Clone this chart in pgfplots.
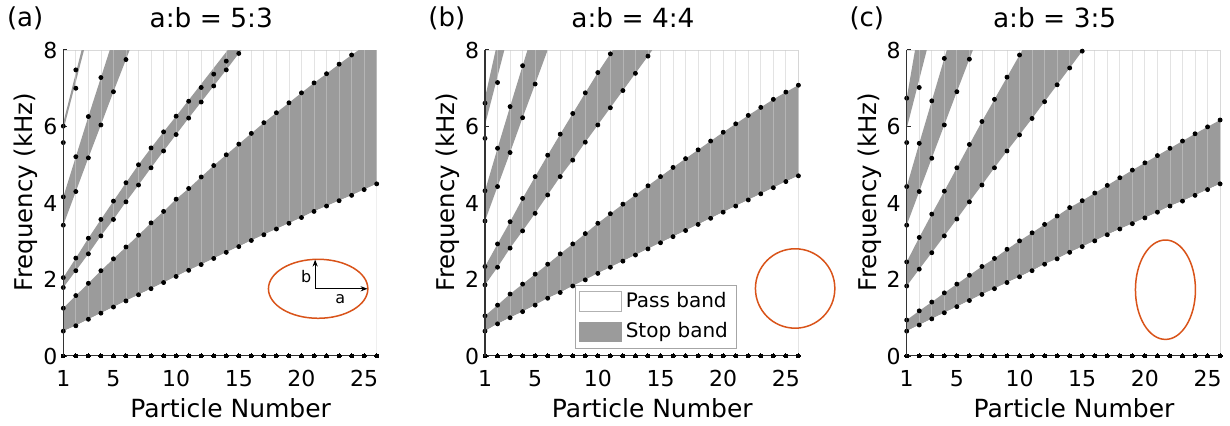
\documentclass[border=0pt]{standalone}
\usepackage{fontspec}
\setmainfont{DejaVu Sans}
\usepackage{pgfplots}
\pgfplotsset{compat=1.18}
\usepgfplotslibrary{fillbetween}
\usepackage{pgfplotstable}
\usetikzlibrary{arrows.meta}
\definecolor{stopgray}{RGB}{155,155,155}
\definecolor{ellcol}{RGB}{217,83,25}

% comb / zero rows
\pgfplotstableread{
x z t
1 0 8
2 0 8
3 0 8
4 0 8
5 0 8
6 0 8
7 0 8
8 0 8
9 0 8
10 0 8
11 0 8
12 0 8
13 0 8
14 0 8
15 0 8
16 0 8
17 0 8
18 0 8
19 0 8
20 0 8
21 0 8
22 0 8
23 0 8
24 0 8
25 0 8
26 0 8
}\basetab

% ---------------- panel (a) ----------------
\pgfplotstableread{
x lo hi dlo dhi
1 0.65 1.25 0.65 1.25
2 0.79 1.58 0.79 1.58
3 0.96 1.90 0.96 1.90
4 1.12 2.23 1.12 2.23
5 1.28 2.54 1.28 2.54
6 1.44 2.85 1.44 2.85
7 1.60 3.16 1.60 3.16
8 1.76 3.48 1.76 3.48
9 1.92 3.78 1.92 3.78
10 2.08 4.10 2.08 4.10
11 2.24 4.38 2.24 4.38
12 2.39 4.68 2.39 4.68
13 2.55 4.98 2.55 4.98
14 2.71 5.26 2.71 5.26
15 2.86 5.54 2.86 5.54
16 3.02 5.82 3.02 5.82
17 3.17 6.10 3.17 6.10
18 3.32 6.36 3.32 6.36
19 3.47 6.62 3.47 6.62
20 3.62 6.88 3.62 6.88
21 3.78 7.14 3.78 7.14
22 3.92 7.38 3.92 7.38
23 4.06 7.63 4.06 7.63
24 4.20 7.87 4.20 7.87
25 4.35 8.10 4.35 nan
26 4.50 8.33 4.50 nan
}\taA
\pgfplotstableread{
x lo hi dlo dhi
1 1.79 2.05 1.79 2.05
2 2.23 2.56 2.23 2.56
3 2.67 3.08 2.67 3.08
4 3.14 3.57 3.14 3.57
5 3.57 4.05 3.57 4.05
6 4.03 4.53 4.03 4.53
7 4.47 5.00 4.47 5.00
8 4.92 5.44 4.92 5.44
9 5.36 5.86 5.36 5.86
10 5.79 6.27 5.79 6.27
11 6.22 6.69 6.22 6.66
12 6.64 7.11 6.64 7.02
13 7.06 7.53 7.06 7.37
14 7.48 7.95 7.48 7.71
15 7.91 8.37 7.91 nan
16 8.33 8.79 nan nan
}\taB
\pgfplotstableread{
x lo hi dlo dhi
1 3.42 4.16 3.42 4.16
2 4.30 5.21 4.30 5.21
3 5.18 6.26 5.18 6.26
4 6.04 7.28 6.04 7.28
5 6.91 8.30 6.91 nan
6 7.75 9.32 7.75 nan
7 8.60 10.34 nan nan
}\taC
\pgfplotstableread{
x lo hi dlo dhi
1 5.90 6.10 5.58 6.01
2 7.17 7.40 7.00 7.48
3 8.44 8.70 nan nan
}\taD

% ---------------- panel (b) ----------------
\pgfplotstableread{
x lo hi dlo dhi
1 0.65 1.05 0.65 1.05
2 0.84 1.33 0.84 1.33
3 1.00 1.62 1.00 1.62
4 1.16 1.88 1.16 1.88
5 1.33 2.14 1.33 2.14
6 1.51 2.40 1.51 2.40
7 1.66 2.67 1.66 2.67
8 1.83 2.93 1.83 2.93
9 1.99 3.20 1.99 3.20
10 2.16 3.47 2.16 3.47
11 2.32 3.72 2.32 3.72
12 2.48 3.97 2.48 3.97
13 2.64 4.21 2.64 4.21
14 2.80 4.45 2.80 4.45
15 2.96 4.69 2.96 4.69
16 3.12 4.93 3.12 4.93
17 3.28 5.16 3.28 5.16
18 3.44 5.39 3.44 5.39
19 3.60 5.62 3.60 5.62
20 3.76 5.85 3.76 5.85
21 3.92 6.07 3.92 6.07
22 4.08 6.29 4.08 6.29
23 4.24 6.50 4.24 6.50
24 4.40 6.71 4.40 6.71
25 4.56 6.90 4.56 6.90
26 4.71 7.08 4.71 7.08
}\tbA
\pgfplotstableread{
x lo hi dlo dhi
1 1.86 2.34 1.86 2.34
2 2.32 2.93 2.32 2.93
3 2.82 3.51 2.82 3.51
4 3.27 4.12 3.27 4.12
5 3.73 4.69 3.73 4.69
6 4.21 5.25 4.21 5.25
7 4.69 5.80 4.69 5.80
8 5.12 6.34 5.12 6.34
9 5.59 6.88 5.59 6.88
10 6.04 7.41 6.04 7.41
11 6.49 7.90 6.49 7.90
12 6.94 8.40 6.94 nan
13 7.39 8.90 7.39 nan
14 7.84 9.40 7.84 nan
15 8.30 9.90 nan nan
}\tbB
\pgfplotstableread{
x lo hi dlo dhi
1 3.53 4.32 3.53 4.32
2 4.43 5.43 4.43 5.43
3 5.32 6.52 5.32 6.52
4 6.23 7.59 6.23 7.59
5 7.11 8.65 7.11 nan
6 8.00 9.70 nan nan
7 8.90 10.80 nan nan
}\tbC
\pgfplotstableread{
x lo hi dlo dhi
1 6.04 6.75 5.69 6.61
2 7.31 8.22 7.15 nan
3 8.58 9.69 nan nan
}\tbD

% ---------------- panel (c) ----------------
\pgfplotstableread{
x lo hi dlo dhi
1 0.65 0.94 0.65 0.94
2 0.81 1.18 0.81 1.18
3 0.97 1.41 0.97 1.41
4 1.13 1.65 1.13 1.65
5 1.29 1.88 1.29 1.88
6 1.45 2.11 1.45 2.11
7 1.61 2.34 1.61 2.34
8 1.76 2.55 1.76 2.55
9 1.92 2.79 1.92 2.79
10 2.07 3.01 2.07 3.01
11 2.23 3.22 2.23 3.22
12 2.40 3.44 2.40 3.44
13 2.54 3.66 2.54 3.66
14 2.71 3.88 2.71 3.88
15 2.86 4.06 2.86 4.06
16 3.01 4.26 3.01 4.26
17 3.17 4.46 3.17 4.46
18 3.32 4.66 3.32 4.66
19 3.46 4.86 3.46 4.86
20 3.61 5.05 3.61 5.05
21 3.76 5.24 3.76 5.24
22 3.92 5.43 3.92 5.43
23 4.05 5.62 4.05 5.62
24 4.20 5.81 4.20 5.81
25 4.35 5.99 4.35 5.99
26 4.50 6.17 4.50 6.17
}\tcA
\pgfplotstableread{
x lo hi dlo dhi
1 1.83 2.46 1.83 2.46
2 2.27 3.10 2.27 3.10
3 2.70 3.71 2.70 3.71
4 3.14 4.31 3.14 4.31
5 3.58 4.92 3.58 4.92
6 4.03 5.53 4.03 5.53
7 4.47 6.13 4.47 6.13
8 4.92 6.71 4.92 6.71
9 5.36 7.29 5.36 7.29
10 5.78 7.87 5.78 7.87
11 6.21 8.45 6.21 nan
12 6.65 9.03 6.65 nan
13 7.09 9.61 7.09 nan
14 7.53 10.19 7.53 nan
15 7.97 10.77 7.97 nan
16 8.41 11.35 nan nan
}\tcB
\pgfplotstableread{
x lo hi dlo dhi
1 3.42 4.43 3.42 4.43
2 4.30 5.56 4.30 5.56
3 5.17 6.67 5.17 6.67
4 6.04 7.78 6.04 7.78
5 6.91 8.89 6.91 nan
6 7.76 10.00 7.76 nan
7 8.61 11.10 nan nan
}\tcC
\pgfplotstableread{
x lo hi dlo dhi
1 5.95 6.74 5.58 6.74
2 7.23 8.64 7.02 nan
3 8.51 10.50 nan nan
}\tcD

\newcommand{\band}[2]{%
  \addplot[draw=none, forget plot, name path=#2lo] table[x=x,y=lo]{#1};
  \addplot[draw=none, forget plot, name path=#2hi] table[x=x,y=hi]{#1};
  \addplot[fill=stopgray, draw=none, forget plot] fill between[of=#2lo and #2hi];
}
\newcommand{\bdots}[1]{%
  \addplot[dotst] table[x=x,y=dlo]{#1};
  \addplot[dotst] table[x=x,y=dhi]{#1};
}
\newcommand{\passlines}[1]{%
  \addplot[ycomb, draw=gray!40, opacity=0.55, line width=0.4pt, forget plot, mark=none] table[x=x,y=t]{\basetab};
  \addplot[fill=white, draw=none, forget plot] table[x=x,y=lo]{#1} \closedcycle;
}
\newcommand{\zeroline}{%
  \addplot[black!80, line width=1pt, mark=*, mark size=1pt, mark options={black, fill=black, line width=0pt}, forget plot] table[x=x,y=z]{\basetab};
}

\pgfplotsset{
  panel/.style={
    scale only axis, width=156.7pt, height=153pt,
    xmin=1, xmax=26, ymin=0, ymax=8,
    xtick={1,5,10,15,20,25}, ytick={0,2,4,6,8},
    tick pos=left, major tick length=2pt,
    axis line style={draw=gray!30, line width=0.5pt},
    tick style={black!85, line width=0.6pt},
    tick label style={font=\fontsize{11}{13}\selectfont},
    /pgf/number format/assume math mode=true,
    xticklabel style={anchor=base, yshift=-15.5pt},
    yticklabel style={anchor=east, inner sep=0pt, xshift=-2.8pt},
    xlabel={Particle Number}, ylabel={Frequency (kHz)},
    xlabel style={at={(axis description cs:0.534,-0.2026)}, anchor=base, font=\fontsize{12.5}{15}\selectfont},
    ylabel style={at={(axis description cs:-0.119,0.536)}, anchor=center, font=\fontsize{12.2}{15}\selectfont},
    title style={at={(axis description cs:0.472,1.0327)}, anchor=base, yshift=0pt, font=\fontsize{13.2}{15}\selectfont},
  },
  dotst/.style={only marks, mark=*, mark size=1pt, black, forget plot, unbounded coords=discard, restrict y to domain=-1:8.05},
}

\begin{document}
\begin{tikzpicture}
% ---------- (a) ----------
\begin{axis}[panel, name=A, at={(31.65pt,35pt)}, anchor=south west,
  title={a:b = 5:3}]
  \band{\taA}{aA}\band{\taB}{aB}\band{\taC}{aC}\band{\taD}{aD}
  \passlines{\taA}
  \bdots{\taA}\bdots{\taB}\bdots{\taC}\bdots{\taD}
  \zeroline
  \coordinate (eA) at (axis cs:21.33,1.757);
\end{axis}
\draw[black!80, line width=0.7pt] (A.south west) -- (A.north west);
\node[anchor=west, inner sep=0pt, font=\fontsize{13}{15}\selectfont] at ([xshift=-28.3pt, yshift=15.8pt]A.north west) {(a)};
\draw[ellcol, line width=0.75pt] (eA) ellipse [x radius=24.85pt, y radius=14.75pt];
\draw[black, line width=0.5pt, -{Stealth[length=3.5pt, width=2.6pt]}] ([xshift=-1.5pt]eA) -- ++(26.2pt,0);
\draw[black, line width=0.5pt, -{Stealth[length=3.5pt, width=2.6pt]}] ([xshift=-1.5pt]eA) -- ++(0,14.6pt);
\node[inner sep=0pt, font=\fontsize{8}{9}\selectfont] at ([xshift=-6pt, yshift=6pt]eA) {b};
\node[inner sep=0pt, font=\fontsize{8}{9}\selectfont] at ([xshift=11pt, yshift=-5.1pt]eA) {a};

% ---------- (b) ----------
\begin{axis}[panel, name=B, at={(242.5pt,35pt)}, anchor=south west,
  title={a:b = 4:4},
  legend style={at={(axis description cs:0.287,0.025)}, anchor=south west, draw=gray!70, fill=white,
    font=\fontsize{10}{12}\selectfont, inner xsep=2pt, inner ysep=1.5pt, row sep=2pt},
  legend cell align=left,
  legend image code/.code={\draw[#1] (0pt,-4.9pt) rectangle (20.8pt,4.9pt);}]
  \addlegendimage{fill=white, draw=gray!60}
  \addlegendentry{Pass band}
  \addlegendimage{fill=stopgray, draw=stopgray}
  \addlegendentry{Stop band}
  \band{\tbA}{bA}\band{\tbB}{bB}\band{\tbC}{bC}\band{\tbD}{bD}
  \passlines{\tbA}
  \bdots{\tbA}\bdots{\tbB}\bdots{\tbC}\bdots{\tbD}
  \zeroline
  \coordinate (eB) at (axis cs:25.74,1.765);
\end{axis}
\draw[black!80, line width=0.7pt] (B.south west) -- (B.north west);
\node[anchor=west, inner sep=0pt, font=\fontsize{13}{15}\selectfont] at ([xshift=-28.5pt, yshift=15.8pt]B.north west) {(b)};
\draw[ellcol, line width=0.75pt] (eB) circle [radius=19.85pt];

% ---------- (c) ----------
\begin{axis}[panel, name=C, at={(453.35pt,35pt)}, anchor=south west,
  title={a:b = 3:5}]
  \band{\tcA}{cA}\band{\tcB}{cB}\band{\tcC}{cC}\band{\tcD}{cD}
  \passlines{\tcA}
  \bdots{\tcA}\bdots{\tcB}\bdots{\tcC}\bdots{\tcD}
  \zeroline
  \coordinate (eC) at (axis cs:21.64,1.733);
\end{axis}
\draw[black!80, line width=0.7pt] (C.south west) -- (C.north west);
\node[anchor=west, inner sep=0pt, font=\fontsize{13}{15}\selectfont] at ([xshift=-28.8pt, yshift=15.8pt]C.north west) {(c)};
\draw[ellcol, line width=0.75pt] (eC) ellipse [x radius=15pt, y radius=24.85pt];

\pgfresetboundingbox
\path[use as bounding box] (0,0) rectangle (615pt,213pt);
\end{tikzpicture}
\end{document}
